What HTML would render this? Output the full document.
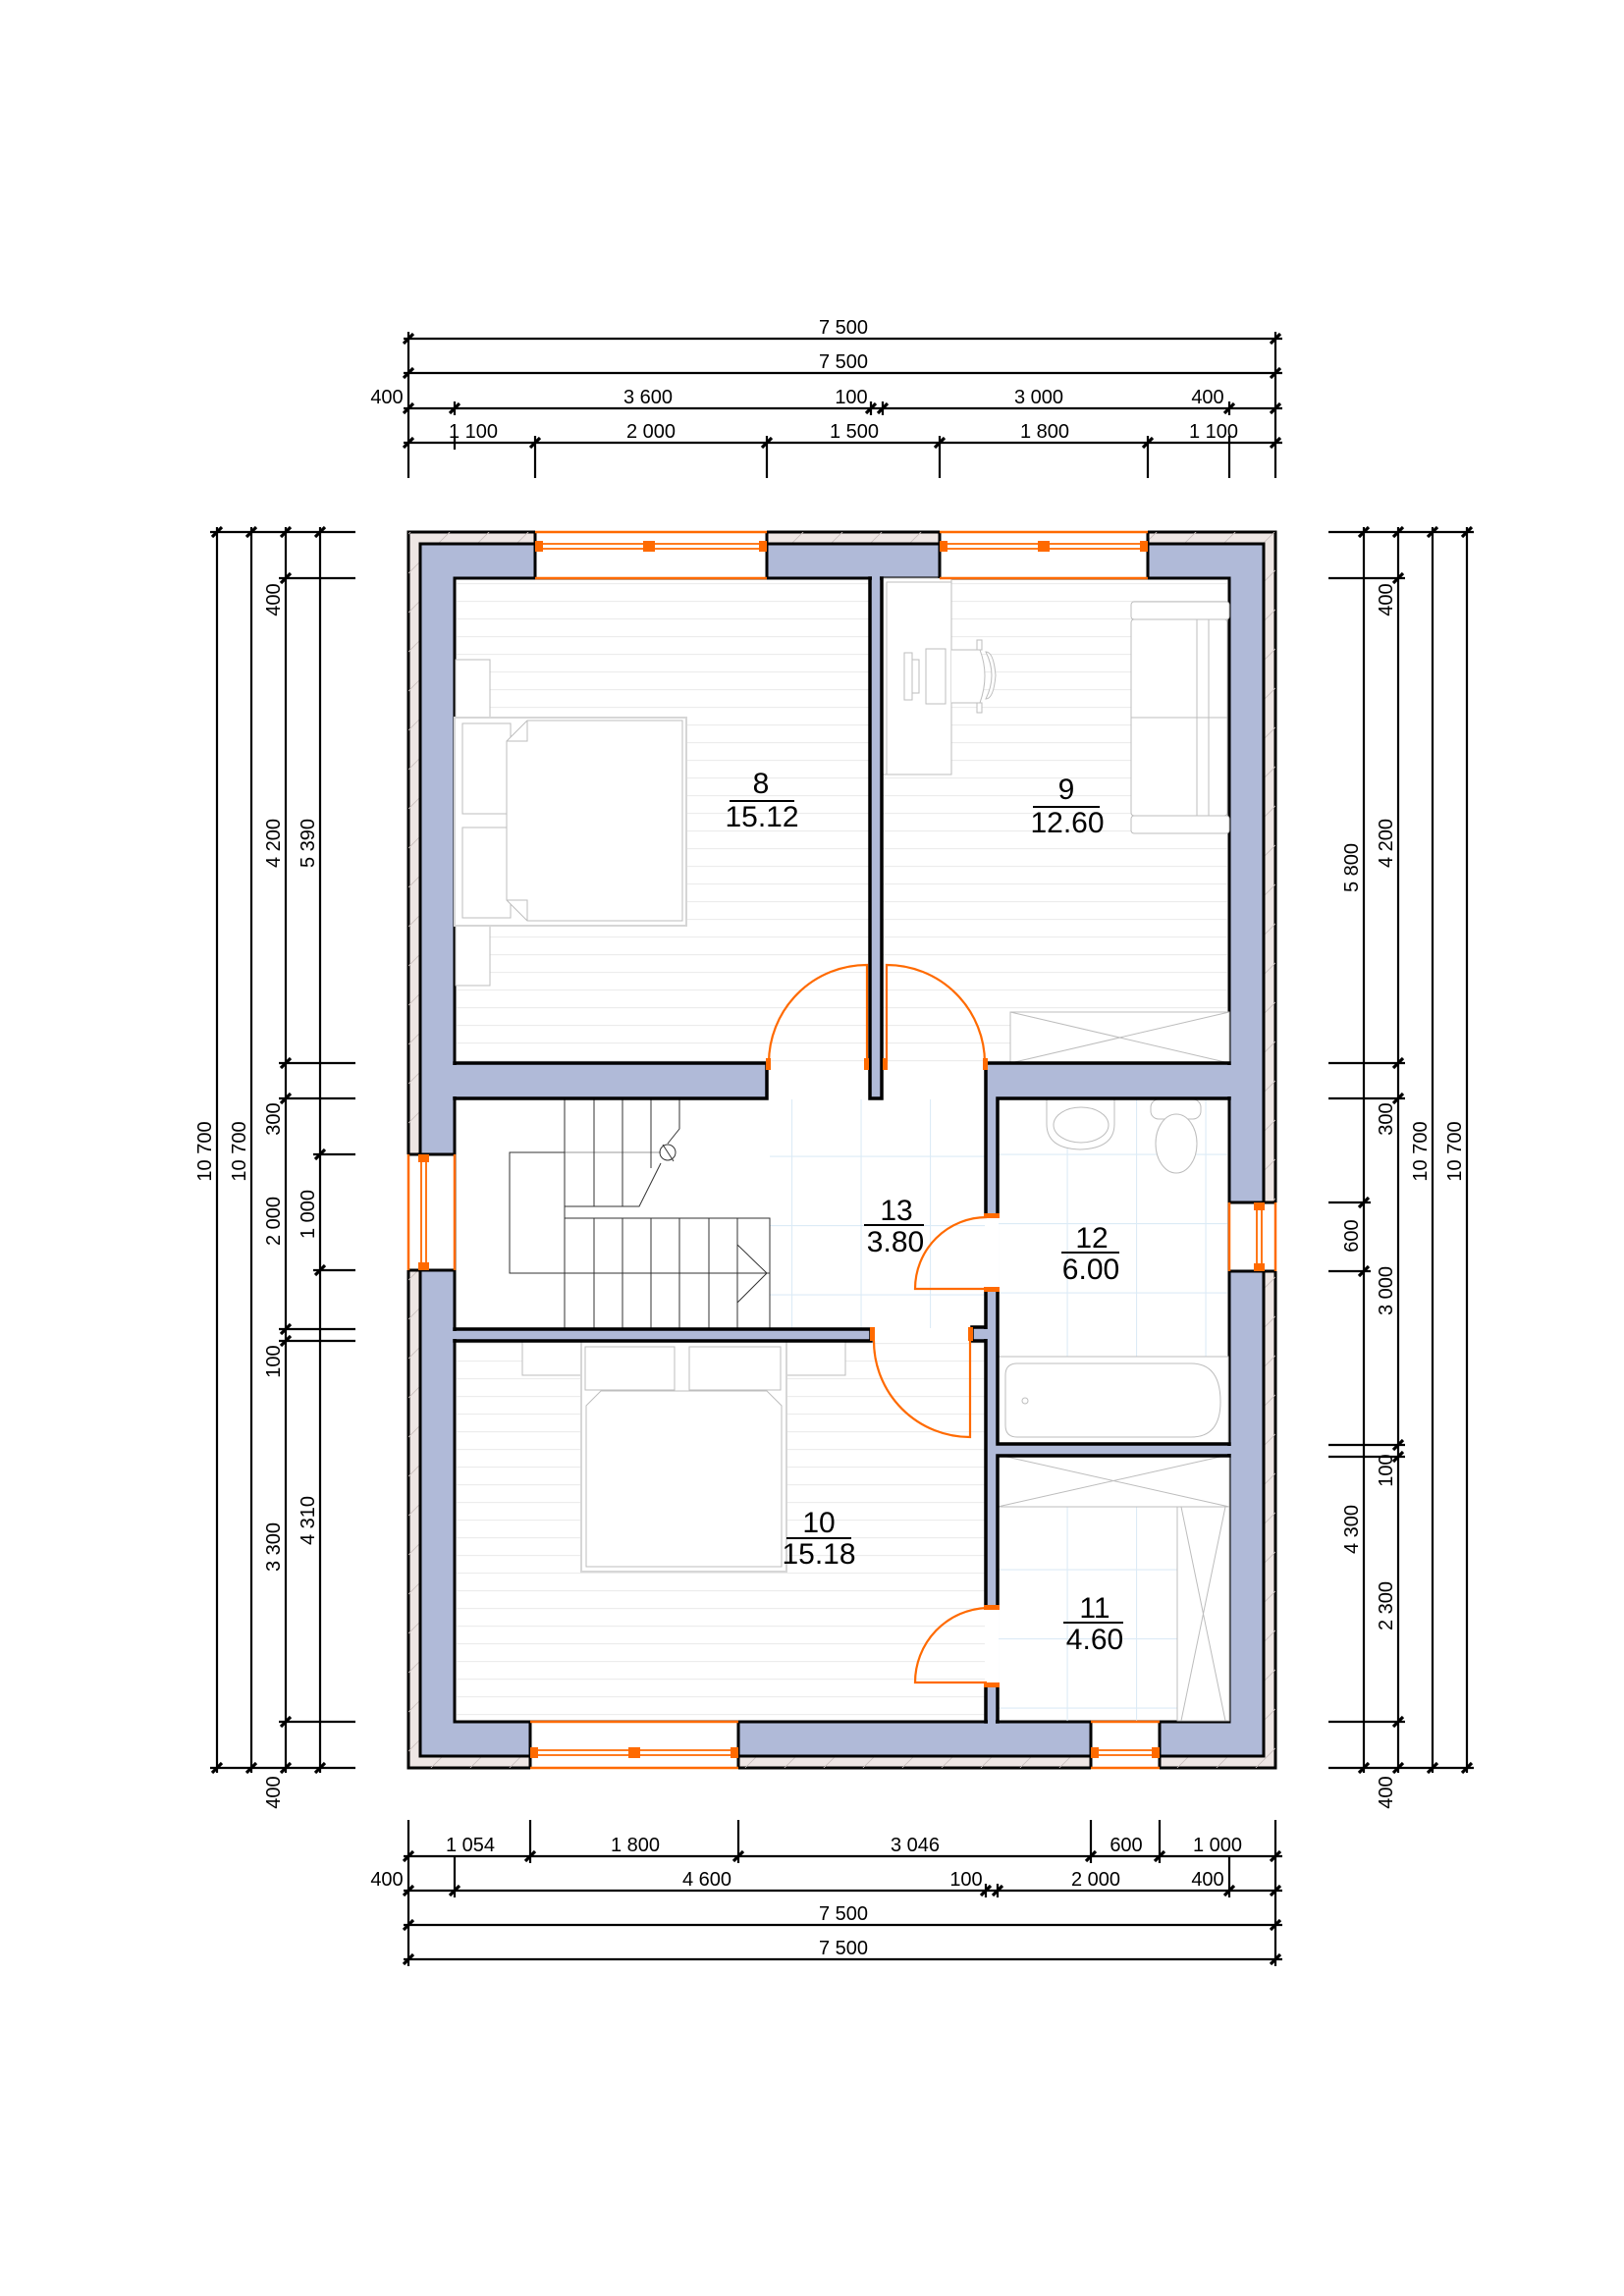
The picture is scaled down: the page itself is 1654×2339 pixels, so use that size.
<!DOCTYPE html>
<html><head><meta charset="utf-8"><style>
html,body{margin:0;padding:0;background:#fff}
svg{display:block}
text{font-family:"Liberation Sans",sans-serif;fill:#000}
</style></head><body>
<svg width="1654" height="2339" viewBox="0 0 1654 2339" xmlns="http://www.w3.org/2000/svg">
<defs>
<pattern id="fl" patternUnits="userSpaceOnUse" x="0" y="648" width="20" height="18"><line x1="0" y1="0.5" x2="20" y2="0.5" stroke="#ececec" stroke-width="1.2"/></pattern>
<pattern id="tl" patternUnits="userSpaceOnUse" x="1016" y="1105" width="70.5" height="70.5"><path d="M0 0.5H70.5M0.5 0V70.5" stroke="#dcebf6" stroke-width="1.2" fill="none"/></pattern>
<pattern id="tl2" patternUnits="userSpaceOnUse" x="806" y="1107" width="70.5" height="70.5"><path d="M0 0.5H70.5M0.5 0V70.5" stroke="#dcebf6" stroke-width="1.2" fill="none"/></pattern>
<pattern id="ht" patternUnits="userSpaceOnUse" width="40" height="40"><line x1="0" y1="40" x2="40" y2="0" stroke="#c9bfbd" stroke-width="0.8"/></pattern>
</defs>

<!-- exterior -->
<rect x="416" y="542" width="883" height="1259" fill="#eee6e4" stroke="#000" stroke-width="3"/>
<rect x="416" y="542" width="883" height="1259" fill="url(#ht)"/>
<rect x="428" y="554" width="859" height="1235" fill="#b0bad8" stroke="#000" stroke-width="3"/>
<rect x="463" y="589" width="789" height="1165" fill="#fff" stroke="#000" stroke-width="3"/>

<!-- floors -->
<rect x="465" y="591" width="420" height="491" fill="url(#fl)"/>
<rect x="899" y="591" width="351" height="491" fill="url(#fl)"/>
<rect x="465" y="1367" width="538" height="386" fill="url(#fl)"/>
<rect x="784" y="1120" width="219" height="233" fill="url(#tl2)"/>
<rect x="1017" y="1120" width="233" height="350" fill="url(#tl)"/>
<rect x="1017" y="1485" width="233" height="268" fill="url(#tl)"/>

<!-- furniture room 8 -->
<g fill="#fff" stroke="#bdbdbd" stroke-width="1">
<rect x="464" y="672" width="35" height="59"/>
<rect x="464" y="943" width="35" height="61"/>
<rect x="463" y="731" width="236" height="212" stroke="#d6d6d6" stroke-width="2"/>
<rect x="471" y="737" width="49" height="92"/>
<rect x="471" y="843" width="49" height="92"/>
<path d="M516 755 L537 734 H695 V938 H537 L516 917 Z"/>
<path d="M516 755 H537 V734 M516 917 H537 V938" fill="none"/>
<!-- room 9 desk -->
<rect x="898" y="589" width="71" height="200"/>
<rect x="903" y="593" width="66" height="196"/>
<rect x="943" y="661" width="20" height="56"/>
<rect x="921" y="665" width="8" height="48"/>
<rect x="929" y="672" width="7" height="34"/>
<path d="M969 662 H998 Q1008 688 998 716 H969" />
<path d="M1004 664 Q1016 688 1004 712 Q1012 712 1014 688 Q1012 664 1004 664Z"/>
<rect x="995" y="652" width="5" height="10"/>
<rect x="995" y="716" width="5" height="10"/>
<!-- sofa -->
<rect x="1152" y="613" width="100" height="18" rx="3"/>
<rect x="1152" y="831" width="100" height="18" rx="3"/>
<rect x="1152" y="631" width="98" height="200" rx="3"/>
<line x1="1152" y1="731" x2="1250" y2="731"/>
<line x1="1219" y1="631" x2="1219" y2="831"/>
<line x1="1231" y1="631" x2="1231" y2="831"/>
<!-- wardrobe 9 -->
<rect x="1029" y="1031" width="223" height="52"/>
<path d="M1029 1031 L1252 1083 M1252 1031 L1029 1083" fill="none"/>
<!-- room 10 -->
<rect x="532" y="1367" width="60" height="34"/>
<rect x="801" y="1367" width="60" height="34"/>
<rect x="592" y="1366" width="209" height="235" stroke="#d6d6d6" stroke-width="2"/>
<rect x="596" y="1372" width="91" height="44"/>
<rect x="702" y="1372" width="93" height="44"/>
<path d="M597 1432 L612 1417 H781 L796 1432 V1596 H597 Z"/>
<!-- bath -->
<path d="M1066 1119 V1145 Q1066 1170 1100 1171 Q1135 1170 1135 1145 V1119" />
<ellipse cx="1101" cy="1146" rx="28" ry="18"/>
<rect x="1172" y="1120" width="51" height="20" rx="8"/>
<ellipse cx="1198" cy="1165" rx="21" ry="30"/>
<rect x="1016" y="1382" width="235" height="88"/>
<path d="M1036 1389 H1213 Q1243 1389 1243 1428 Q1243 1464 1213 1464 H1036 Q1024 1464 1024 1452 V1401 Q1024 1389 1036 1389Z"/>
<circle cx="1044" cy="1427" r="3"/>
<!-- room 11 -->
<rect x="1016" y="1482" width="236" height="53"/>
<path d="M1016 1482 L1252 1535 M1252 1482 L1016 1535" fill="none"/>
<rect x="1199" y="1535" width="53" height="218"/>
<path d="M1203 1535 L1248 1753 M1248 1535 L1203 1753" fill="none"/>
</g>

<!-- stairs -->
<g fill="none" stroke="#333" stroke-width="1">
<rect x="519" y="1174" width="56" height="123" fill="#fff"/>
<line x1="575" y1="1174" x2="673" y2="1174" stroke="#999"/>
<rect x="575" y="1241" width="209" height="112" fill="#fff"/>
<path d="M605 1241V1353M634 1241V1353M663 1241V1353M692 1241V1353M722 1241V1353M751 1241V1353"/>
<path d="M751 1268 L781 1297 L751 1327"/>
<line x1="575" y1="1297" x2="784" y2="1297"/>
<path d="M575 1119V1229H651L673 1185M605 1119V1229M634 1119V1229M663 1119V1190M692 1119V1150L680 1165M692 1119 L707 1119"/>
<circle cx="680" cy="1174" r="8"/>
<line x1="675" y1="1166" x2="686" y2="1183"/>
</g>

<!-- interior walls -->
<g fill="#b0bad8" stroke="#000" stroke-width="3.5">
<rect x="463" y="1083" width="318" height="36"/>
<rect x="886" y="589" width="12" height="530"/>
<path d="M1004 1083 H1252 V1119 H1016 V1238 H1004 Z"/>
<rect x="463" y="1354" width="424" height="12"/>
<rect x="990" y="1352" width="14" height="14"/>
<path d="M1004 1313 H1016 V1471 H1252 V1483 H1016 V1637 H1004 Z"/>
<rect x="1004" y="1716" width="12" height="38"/>
</g>
<!-- junction patches -->
<g fill="#b0bad8">
<rect x="458" y="1085" width="10" height="32"/>
<rect x="888" y="583" width="8" height="10"/>
<rect x="1246" y="1085" width="10" height="32"/>
<rect x="458" y="1356" width="10" height="8"/>
<rect x="1246" y="1473" width="10" height="8"/>
<rect x="1006" y="1748" width="8" height="10"/>
<rect x="1002" y="1354" width="6" height="10"/>
</g>

<!-- windows -->
<g>
<rect x="545" y="540" width="236" height="50" fill="#fff"/>
<rect x="957" y="540" width="212" height="50" fill="#fff"/>
<rect x="540" y="1753" width="212" height="50" fill="#fff"/>
<rect x="1111" y="1753" width="70" height="50" fill="#fff"/>
<rect x="414" y="1176" width="50" height="118" fill="#fff"/>
<rect x="1251" y="1225" width="50" height="70" fill="#fff"/>
</g>
<g stroke="#000" stroke-width="3">
<path d="M545 542V589M781 542V589M957 542V589M1169 542V589M540 1754V1801M752 1754V1801M1111 1754V1801M1181 1754V1801M416 1176H463M416 1294H463M1252 1225H1299M1252 1295H1299"/>
</g>
<g stroke="#ff6a00" fill="none" stroke-width="2.5">
<path d="M545 542H781M545 589H781M957 542H1169M957 589H1169M540 1754H752M540 1801H752M1111 1754H1181M1111 1801H1181M416 1176V1294M463 1176V1294M1252 1225V1295M1299 1225V1295"/>
<path d="M545 554H781M545 559H781M957 554H1169M957 559H1169M540 1783H752M540 1788H752M1111 1783H1181M1111 1788H1181M429 1176V1294M434 1176V1294M1280 1225V1295M1285 1225V1295" stroke-width="1.8"/>
</g>
<g fill="#ff6a00">
<rect x="545" y="551" width="8" height="11"/><rect x="655" y="551" width="12" height="11"/><rect x="773" y="551" width="8" height="11"/>
<rect x="957" y="551" width="8" height="11"/><rect x="1057" y="551" width="12" height="11"/><rect x="1161" y="551" width="8" height="11"/>
<rect x="540" y="1780" width="8" height="11"/><rect x="640" y="1780" width="12" height="11"/><rect x="744" y="1780" width="8" height="11"/>
<rect x="1111" y="1780" width="8" height="11"/><rect x="1173" y="1780" width="8" height="11"/>
<rect x="426" y="1176" width="11" height="8"/><rect x="426" y="1286" width="11" height="8"/>
<rect x="1277" y="1225" width="11" height="8"/><rect x="1277" y="1287" width="11" height="8"/>
</g>

<!-- doors -->
<g stroke="#ff6a00" fill="none" stroke-width="2.2">
<path d="M783 1083 A100 100 0 0 1 883 983 V1083"/>
<path d="M1003 1083 A100 100 0 0 0 903 983 V1083"/>
<path d="M1005 1240 A73 73 0 0 0 932 1313 H1005"/>
<path d="M1005 1638 A76 76 0 0 0 932 1714 H1005"/>
<path d="M890 1366 A98 98 0 0 0 988 1464 V1366"/>
</g>
<g fill="#ff6a00">
<rect x="780" y="1078" width="5" height="12"/><rect x="880" y="1078" width="5" height="12"/>
<rect x="899" y="1078" width="5" height="12"/><rect x="1001" y="1078" width="5" height="12"/>
<rect x="1002" y="1236" width="16" height="5"/><rect x="1002" y="1311" width="16" height="5"/>
<rect x="1002" y="1635" width="16" height="5"/><rect x="1002" y="1714" width="16" height="5"/>
<rect x="886" y="1352" width="5" height="14"/><rect x="986" y="1352" width="5" height="14"/>
</g>

<!-- room labels -->
<g font-size="30" text-anchor="middle">
<text x="775" y="808">8</text><line x1="743" y1="816" x2="809" y2="816" stroke="#000" stroke-width="2"/><text x="776" y="842">15.12</text>
<text x="1086" y="814">9</text><line x1="1052" y1="822" x2="1120" y2="822" stroke="#000" stroke-width="2"/><text x="1087" y="848">12.60</text>
<text x="913" y="1243">13</text><line x1="880" y1="1248" x2="941" y2="1248" stroke="#000" stroke-width="2"/><text x="912" y="1275">3.80</text>
<text x="1112" y="1271">12</text><line x1="1081" y1="1276" x2="1140" y2="1276" stroke="#000" stroke-width="2"/><text x="1111" y="1303">6.00</text>
<text x="834" y="1561">10</text><line x1="801" y1="1567" x2="867" y2="1567" stroke="#000" stroke-width="2"/><text x="834" y="1593">15.18</text>
<text x="1115" y="1648">11</text><line x1="1083" y1="1653" x2="1144" y2="1653" stroke="#000" stroke-width="2"/><text x="1115" y="1680">4.60</text>
</g>

<!-- dimensions -->
<g stroke="#000" stroke-width="2.2" fill="none">
<!-- top -->
<path d="M411 345H1306M411 380H1306M411 416H1306M411 451H1306"/>
<path d="M416 338V487M1299 338V487"/>
<path d="M463 409V423M887 409V423M899 409V423M1252 409V423"/>
<path d="M545 444V487M781 444V487M957 444V487M1169 444V487M1252 444V487M463 444V458"/>
<!-- bottom -->
<path d="M411 1891H1306M411 1926H1306M411 1961H1306M411 1996H1306"/>
<path d="M416 1854V2003M1299 1854V2003"/>
<path d="M540 1854V1898M752 1854V1898M1111 1854V1898M1181 1854V1898"/>
<path d="M463 1891V1933M1004 1919V1933M1016 1919V1933M1252 1891V1933"/>
<!-- left -->
<path d="M221 537V1806M256 537V1806M291 537V1806M326 537V1806"/>
<path d="M214 542H362M214 1801H362"/>
<path d="M284 589H362M284 1083H362M284 1119H362M284 1354H362M284 1366H362M284 1754H362"/>
<path d="M319 1176H362M319 1294H362"/>
<!-- right -->
<path d="M1389 537V1806M1424 537V1806M1459 537V1806M1494 537V1806"/>
<path d="M1353 542H1501M1353 1801H1501"/>
<path d="M1353 1225H1396M1353 1295H1396"/>
<path d="M1353 589H1431M1353 1083H1431M1353 1119H1431M1353 1472H1431M1353 1484H1431M1353 1754H1431"/>
</g>
<g stroke="#000" stroke-width="3.2">
<!-- ticks horizontal lines -->
<path d="M411 350l10-10M1294 350l10-10M411 385l10-10M1294 385l10-10M411 421l10-10M458 421l10-10M882 421l10-10M894 421l10-10M1247 421l10-10M1294 421l10-10M411 456l10-10M540 456l10-10M776 456l10-10M952 456l10-10M1164 456l10-10M1294 456l10-10"/>
<path d="M411 1896l10-10M535 1896l10-10M747 1896l10-10M1106 1896l10-10M1176 1896l10-10M1294 1896l10-10M411 1931l10-10M458 1931l10-10M999 1931l10-10M1011 1931l10-10M1247 1931l10-10M1294 1931l10-10M411 1966l10-10M1294 1966l10-10M411 2001l10-10M1294 2001l10-10"/>
<!-- vertical lines -->
<path d="M216 547l10-10M216 1806l10-10M251 547l10-10M251 1806l10-10M286 547l10-10M286 594l10-10M286 1088l10-10M286 1124l10-10M286 1359l10-10M286 1371l10-10M286 1759l10-10M286 1806l10-10M321 547l10-10M321 1181l10-10M321 1299l10-10M321 1806l10-10"/>
<path d="M1384 547l10-10M1384 1230l10-10M1384 1300l10-10M1384 1806l10-10M1419 547l10-10M1419 594l10-10M1419 1088l10-10M1419 1124l10-10M1419 1477l10-10M1419 1489l10-10M1419 1759l10-10M1419 1806l10-10M1454 547l10-10M1454 1806l10-10M1489 547l10-10M1489 1806l10-10"/>
</g>
<g font-size="20" text-anchor="middle">
<text x="859" y="340">7 500</text>
<text x="859" y="375">7 500</text>
<text x="394" y="411">400</text><text x="660" y="411">3 600</text><text x="867" y="411">100</text><text x="1058" y="411">3 000</text><text x="1230" y="411">400</text>
<text x="482" y="446">1 100</text><text x="663" y="446">2 000</text><text x="870" y="446">1 500</text><text x="1064" y="446">1 800</text><text x="1236" y="446">1 100</text>
<text x="479" y="1886">1 054</text><text x="647" y="1886">1 800</text><text x="932" y="1886">3 046</text><text x="1147" y="1886">600</text><text x="1240" y="1886">1 000</text>
<text x="394" y="1921">400</text><text x="720" y="1921">4 600</text><text x="984" y="1921">100</text><text x="1116" y="1921">2 000</text><text x="1230" y="1921">400</text>
<text x="859" y="1956">7 500</text>
<text x="859" y="1991">7 500</text>
</g>
<g font-size="20" text-anchor="middle">
<text transform="translate(215 1173) rotate(-90)">10 700</text>
<text transform="translate(250 1173) rotate(-90)">10 700</text>
<text transform="translate(285 611) rotate(-90)">400</text>
<text transform="translate(285 859) rotate(-90)">4 200</text>
<text transform="translate(285 1140) rotate(-90)">300</text>
<text transform="translate(285 1244) rotate(-90)">2 000</text>
<text transform="translate(285 1387) rotate(-90)">100</text>
<text transform="translate(285 1576) rotate(-90)">3 300</text>
<text transform="translate(285 1826) rotate(-90)">400</text>
<text transform="translate(320 859) rotate(-90)">5 390</text>
<text transform="translate(320 1237) rotate(-90)">1 000</text>
<text transform="translate(320 1549) rotate(-90)">4 310</text>
<text transform="translate(1383 884) rotate(-90)">5 800</text>
<text transform="translate(1383 1259) rotate(-90)">600</text>
<text transform="translate(1383 1558) rotate(-90)">4 300</text>
<text transform="translate(1418 611) rotate(-90)">400</text>
<text transform="translate(1418 859) rotate(-90)">4 200</text>
<text transform="translate(1418 1140) rotate(-90)">300</text>
<text transform="translate(1418 1315) rotate(-90)">3 000</text>
<text transform="translate(1418 1498) rotate(-90)">100</text>
<text transform="translate(1418 1636) rotate(-90)">2 300</text>
<text transform="translate(1418 1826) rotate(-90)">400</text>
<text transform="translate(1453 1173) rotate(-90)">10 700</text>
<text transform="translate(1488 1173) rotate(-90)">10 700</text>
</g>
</svg>
</body></html>
